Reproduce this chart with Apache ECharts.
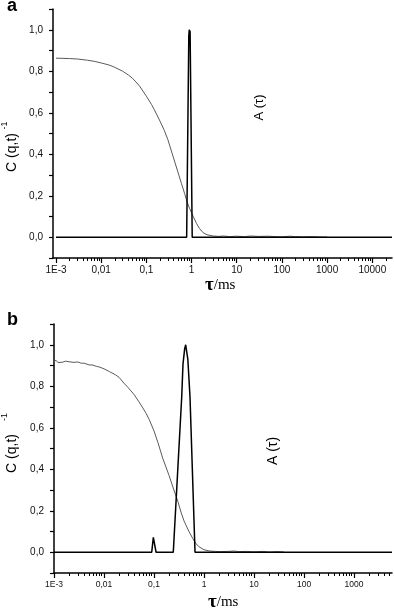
<!DOCTYPE html>
<html>
<head>
<meta charset="utf-8">
<script src="https://cdn.jsdelivr.net/npm/echarts@6/dist/echarts.min.js"></script>
<style>
html,body{margin:0;padding:0;background:#fff;}
#main{width:394px;height:612px;}
</style>
</head>
<body>
<div id="main"></div>
<script>
// panel a : correlation function (grey) and distribution A(tau) (black)
var corrTauA=[0.001,0.0015,0.002,0.003,0.005,0.007,0.01,0.015,0.02,0.03,0.04,0.05,0.07,0.1,0.13,0.15,0.2,0.25,0.3,0.4,0.5,0.6,0.7,0.8,0.9,1,1.1,1.3,1.5,1.8,2.2,3,4,5,7,10,15,20,30,50,70,100,150,200,300,500,700,1000];
var corrValA=[0.863,0.862,0.861,0.859,0.853,0.848,0.840,0.830,0.819,0.800,0.782,0.765,0.730,0.680,0.640,0.615,0.560,0.515,0.470,0.382,0.314,0.258,0.212,0.170,0.140,0.118,0.098,0.065,0.042,0.022,0.012,0.006,0.004,0.006,0.003,0.005,0.003,0.006,0.004,0.005,0.003,0.002,0.005,0.003,0.002,0.003,0.001,0.001];
var ampTauA=[0.001,0.78,0.87,0.89,0.93,1.035,27300];
var ampValA=[0,0,0.97,1.0,0.99,0,0];

// panel b
var corrTauB=[0.001,0.0011,0.0012,0.0013,0.0015,0.0017,0.002,0.0025,0.003,0.0035,0.004,0.005,0.006,0.007,0.008,0.01,0.013,0.017,0.02,0.025,0.03,0.04,0.05,0.06,0.07,0.08,0.1,0.12,0.15,0.2,0.25,0.3,0.35,0.4,0.5,0.6,0.7,0.8,1,1.3,1.7,2,3,4,5,7,10,15,20,30,40];
var corrValB=[0.920,0.925,0.914,0.919,0.916,0.921,0.918,0.915,0.917,0.911,0.911,0.903,0.902,0.896,0.893,0.884,0.870,0.855,0.843,0.815,0.795,0.760,0.725,0.695,0.668,0.640,0.585,0.528,0.452,0.370,0.300,0.245,0.190,0.150,0.100,0.065,0.040,0.026,0.012,0.006,0.004,0.003,0.004,0.006,0.003,0.004,0.002,0.004,0.001,0.003,0.001];
var ampTauB=[0.001,0.09,0.097,0.1,0.103,0.11,0.243,0.358,0.38,0.41,0.43,0.45,0.475,0.525,0.661,5750];
var ampValB=[0,0,0.072,0.08,0.072,0,0,0.747,0.907,0.98,1.0,0.995,0.93,0.747,0,0];

// axis ticks
var xTicksA=[0.001,0.01,0.1,1,10,100,1000,10000];
var xLabelsA=['1E-3','0,01','0,1','1','10','100','1000','10000'];
var xTicksB=[0.001,0.01,0.1,1,10,100,1000];
var xLabelsB=['1E-3','0,01','0,1','1','10','100','1000'];
var yTicks=[0,0.2,0.4,0.6,0.8,1.0];
var yLabels=['0,0','0,2','0,4','0,6','0,8','1,0'];

var xMinA=0.00086,xMaxA=27300;
var xMinB=0.001,xMaxB=5750;
var yMin=-0.1,yMax=1.1;

function zip(a,b){
	var out=[];
	for(var i=0;i<a.length;i++){out.push([a[i],b[i]]);}
	return out;
}
function log10s(a){
	return a.map(function(v){return Math.log10(v);});
}
//log minor ticks 2..9 in every decade
function minorTicks(majors,max){
	var out=[];
	for(var i=0;i<majors.length;i++){
		for(var k=2;k<=9;k++){
			var v=majors[i]*k;
			if(v<=max){out.push(v);}
		}
	}
	return out;
}
function lookup(ticks,labels,v){
	for(var i=0;i<ticks.length;i++){
		if(Math.abs(v-ticks[i])<1e-6){return labels[i];}
	}
	return '';
}

var LABEL_FONT='Liberation Sans';

//the log axis the curves live on: only its line is drawn
function mainX(grid,min,max){
	return {
		type:'log',gridIndex:grid,min:min,max:max,logBase:10,position:'bottom',
		axisLine:{show:true,onZero:false,lineStyle:{color:'#000',width:1.5}},
		axisTick:{show:false},axisLabel:{show:false},
		splitLine:{show:false},minorTick:{show:false}
	};
}
//same span in decades, carries the ticks and labels
function tickX(grid,min,max,ticks,labels,len,size){
	var lt=log10s(ticks);
	return {
		type:'value',gridIndex:grid,min:Math.log10(min),max:Math.log10(max),position:'bottom',
		axisLine:{show:false,onZero:false},
		axisTick:{show:true,inside:false,length:len,customValues:lt,lineStyle:{color:'#000',width:len>3?1.2:1}},
		axisLabel:labels?{show:true,margin:7,customValues:lt,color:'#111',fontFamily:LABEL_FONT,fontSize:size,
			formatter:function(v){return lookup(lt,labels,v);}}:{show:false},
		splitLine:{show:false}
	};
}
function mainY(grid){
	return {
		type:'value',gridIndex:grid,min:yMin,max:yMax,interval:0.1,
		axisLine:{show:true,onZero:false,lineStyle:{color:'#000',width:1.5}},
		axisTick:{show:true,inside:false,length:4,lineStyle:{color:'#000',width:1.2}},
		axisLabel:{show:true,margin:10,customValues:yTicks,color:'#111',fontFamily:LABEL_FONT,fontSize:10,
			formatter:function(v){return lookup(yTicks,yLabels,v);}},
		splitLine:{show:false}
	};
}
function corrSeries(x,y,data){
	return {type:'line',xAxisIndex:x,yAxisIndex:y,data:data,symbol:'none',showSymbol:false,
		lineStyle:{color:'#5a5a5a',width:1},z:2,animation:false};
}
function ampSeries(x,y,data){
	return {type:'line',xAxisIndex:x,yAxisIndex:y,data:data,symbol:'none',showSymbol:false,
		lineStyle:{color:'#000',width:1.5},z:3,animation:false};
}

var rotated=Math.PI/2;
var chart=echarts.init(document.getElementById('main'),null,{renderer:'canvas'});
var option={
	backgroundColor:'#fff',
	animation:false,
	grid:[
		{left:53,top:9,right:2,height:249,containLabel:false},
		{left:54,top:324,right:2,height:249,containLabel:false}
	],
	xAxis:[
		mainX(0,xMinA,xMaxA),
		mainX(1,xMinB,xMaxB),
		tickX(0,xMinA,xMaxA,xTicksA,xLabelsA,5,10),
		tickX(0,xMinA,xMaxA,minorTicks(xTicksA,xMaxA),null,3),
		tickX(1,xMinB,xMaxB,xTicksB,xLabelsB,5,8.5),
		tickX(1,xMinB,xMaxB,minorTicks(xTicksB,xMaxB),null,3)
	],
	yAxis:[mainY(0),mainY(1)],
	series:[
		corrSeries(0,0,zip(corrTauA,corrValA)),
		ampSeries(0,0,zip(ampTauA,ampValA)),
		corrSeries(1,1,zip(corrTauB,corrValB)),
		ampSeries(1,1,zip(ampTauB,ampValB))
	],
	graphic:[
		{type:'text',x:7,y:6,style:{text:'a',font:'bold 18px Liberation Sans',fill:'#000',align:'left',verticalAlign:'middle'}},
		{type:'text',x:7,y:320,style:{text:'b',font:'bold 18px Liberation Sans',fill:'#000',align:'left',verticalAlign:'middle'}},
		//y titles
		{type:'text',x:12.5,y:152.5,rotation:rotated,style:{text:'C (q,t)',font:'14px Liberation Sans',fill:'#000',align:'center',verticalAlign:'middle'}},
		{type:'text',x:5,y:125.5,rotation:rotated,style:{text:'-1',font:'9px Liberation Sans',fill:'#000',align:'center',verticalAlign:'middle'}},
		{type:'text',x:12.5,y:453.5,rotation:rotated,style:{text:'C (q,t)',font:'14px Liberation Sans',fill:'#000',align:'center',verticalAlign:'middle'}},
		{type:'text',x:5,y:417,rotation:rotated,style:{text:'-1',font:'9px Liberation Sans',fill:'#000',align:'center',verticalAlign:'middle'}},
		//A(tau)
		{type:'text',x:259,y:107.5,rotation:rotated,style:{text:'A (\u03c4)',font:'13px Liberation Sans',fill:'#000',align:'center',verticalAlign:'middle'}},
		{type:'text',x:273.5,y:451,rotation:rotated,style:{text:'A (\u03c4)',font:'14px Liberation Sans',fill:'#000',align:'center',verticalAlign:'middle'}},
		//x titles
		{type:'text',x:205,y:295,style:{text:'{t|\u03c4}{u|/ms}',align:'left',verticalAlign:'bottom',
			rich:{t:{font:'bold 19px Liberation Serif',fill:'#000'},u:{font:'15px Liberation Serif',fill:'#000'}}}},
		{type:'text',x:208,y:612,style:{text:'{t|\u03c4}{u|/ms}',align:'left',verticalAlign:'bottom',
			rich:{t:{font:'bold 19px Liberation Serif',fill:'#000'},u:{font:'15px Liberation Serif',fill:'#000'}}}}
	]
};
chart.setOption(option);
</script>
</body>
</html>
